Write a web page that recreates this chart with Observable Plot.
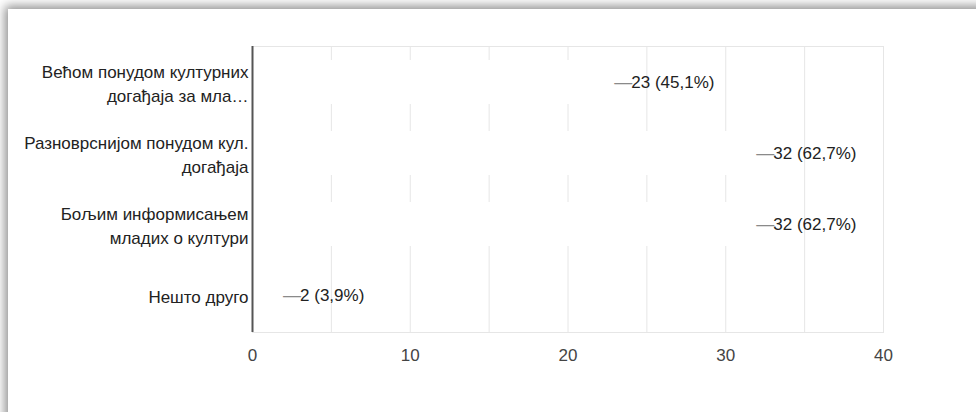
<!DOCTYPE html>
<html>
<head>
<meta charset="utf-8">
<script src="https://cdn.jsdelivr.net/npm/d3@7"></script>
<script src="https://cdn.jsdelivr.net/npm/@observablehq/plot@0.6"></script>
<style>
  html, body { margin: 0; padding: 0; background: #fff; overflow: hidden; width: 976px; height: 412px; }
  #card { position: absolute; left: 8px; top: 9px; width: 1000px; height: 440px; background: #fff;
          box-shadow: 0 0 10px 3px rgba(0,0,0,0.45); }
  #chart { position: absolute; left: 0; top: 0; }
</style>
</head>
<body>
<div id="card"><div id="chart"></div></div>
<script>
const categories = [
  "Већом понудом културних догађаја за мла…",
  "Разноврснијом понудом кул. догађаја",
  "Бољим информисањем младих о култури",
  "Нешто друго"
];
const yTickLabels = [
  "Већом понудом културних\nдогађаја за мла…",
  "Разноврснијом понудом кул.\nдогађаја",
  "Бољим информисањем\nмладих о култури",
  "Нешто друго"
];
const counts = [23, 32, 32, 2];
const percents = ["45,1%", "62,7%", "62,7%", "3,9%"];
const xTicks = [0, 10, 20, 30, 40];

const data = categories.map((c, i) => ({category: c, value: counts[i], pct: percents[i]}));
const labelOf = new Map(categories.map((c, i) => [c, yTickLabels[i]]));

const font = "'Liberation Sans', Arial, sans-serif";

const chart = Plot.plot({
  width: 968,
  height: 403,
  marginLeft: 244,
  marginRight: 93,
  marginTop: 37,
  marginBottom: 80,
  style: {fontFamily: font, fontSize: "17px", background: "transparent"},
  x: {domain: [0, 40]},
  y: {domain: categories, paddingInner: 0.38, paddingOuter: 0.19},
  marks: [
    Plot.gridX({ticks: 8, stroke: "#e6e6e6", strokeOpacity: 1}),
    Plot.frame({stroke: "#e6e6e6"}),
    Plot.barX(data, {x: "value", y: "category", fill: "white"}),
    Plot.ruleX([0], {stroke: "#555", strokeWidth: 2}),
    Plot.text(data, {x: "value", y: "category", text: () => "—", textAnchor: "start", dx: -1, fill: "#8a8a8a", fontSize: 18}),
    Plot.text(data, {x: "value", y: "category", text: d => `${d.value} (${d.pct})`, textAnchor: "start", dx: 16, fill: "#222", fontSize: 17}),
    Plot.axisY({tickSize: 0, tickPadding: 4, tickFormat: d => labelOf.get(d), fontSize: 17, lineHeight: 1.4, fill: "#222", label: null}),
    Plot.axisX({ticks: xTicks, tickSize: 0, tickPadding: 16, tickFormat: d => String(d), fill: "#444", fontSize: 17, label: null})
  ]
});
document.getElementById("chart").appendChild(chart);
</script>
</body>
</html>
